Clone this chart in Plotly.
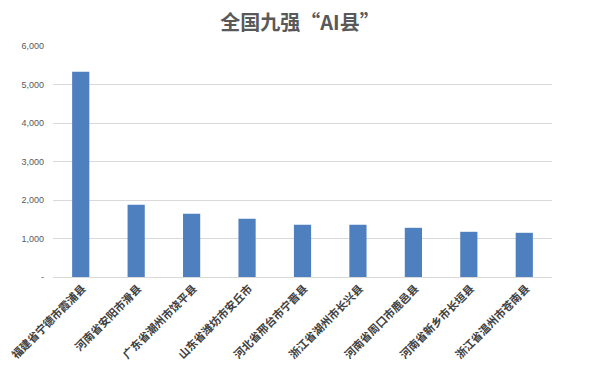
import plotly.graph_objects as go

counties = ["福建省宁德市霞浦县", "河南省安阳市滑县", "广东省潮州市饶平县", "山东省潍坊市安丘市",
            "河北省邢台市宁晋县", "浙江省湖州市长兴县", "河南省周口市鹿邑县", "河南省新乡市长垣县",
            "浙江省温州市苍南县"]
values = [5330, 1878, 1644, 1513, 1357, 1355, 1278, 1174, 1148]
tick_vals = [0, 1000, 2000, 3000, 4000, 5000, 6000]
tick_text = ["-", "1,000", "2,000", "3,000", "4,000", "5,000", "6,000"]
title_text = "全国九强“AI县”"

# page body has an 8px default margin, so the figure starts at (8, 8)
W, H = 605, 372
L, R, T, B = 45, 61, 38, 103

fig = go.Figure(go.Bar(x=counties, y=values, marker_color="#4e7fbf", marker_line_width=0))

fig.update_layout(
    width=W, height=H,
    margin=dict(l=L, r=R, t=T, b=B, autoexpand=False),
    paper_bgcolor="white", plot_bgcolor="white",
    bargap=0.69,
    showlegend=False,
    title=dict(text=title_text, x=292 / W, xanchor="center", y=1 - 15 / H, yanchor="middle",
               font=dict(family="Noto Sans CJK SC", size=20, color="#595959", weight="bold")),
    font=dict(family="Noto Sans CJK SC", color="#595959"),
)
fig.update_xaxes(tickangle=-45, automargin=False, ticklabelshift=2,
                 tickfont=dict(size=11, color="#404040", family="Noto Sans CJK SC", weight="bold"),
                 showline=True, linecolor="#d9d9d9", linewidth=1, ticks="", showgrid=False)
fig.update_yaxes(range=[0, 6000], tickvals=tick_vals, ticktext=tick_text, automargin=False,
                 tickfont=dict(size=9, color="#595959", family="Liberation Sans"),
                 showgrid=True, gridcolor="#d9d9d9", gridwidth=1, zeroline=False,
                 showline=False, ticks="", ticklabelstandoff=8)
fig.write_html("out.html")
